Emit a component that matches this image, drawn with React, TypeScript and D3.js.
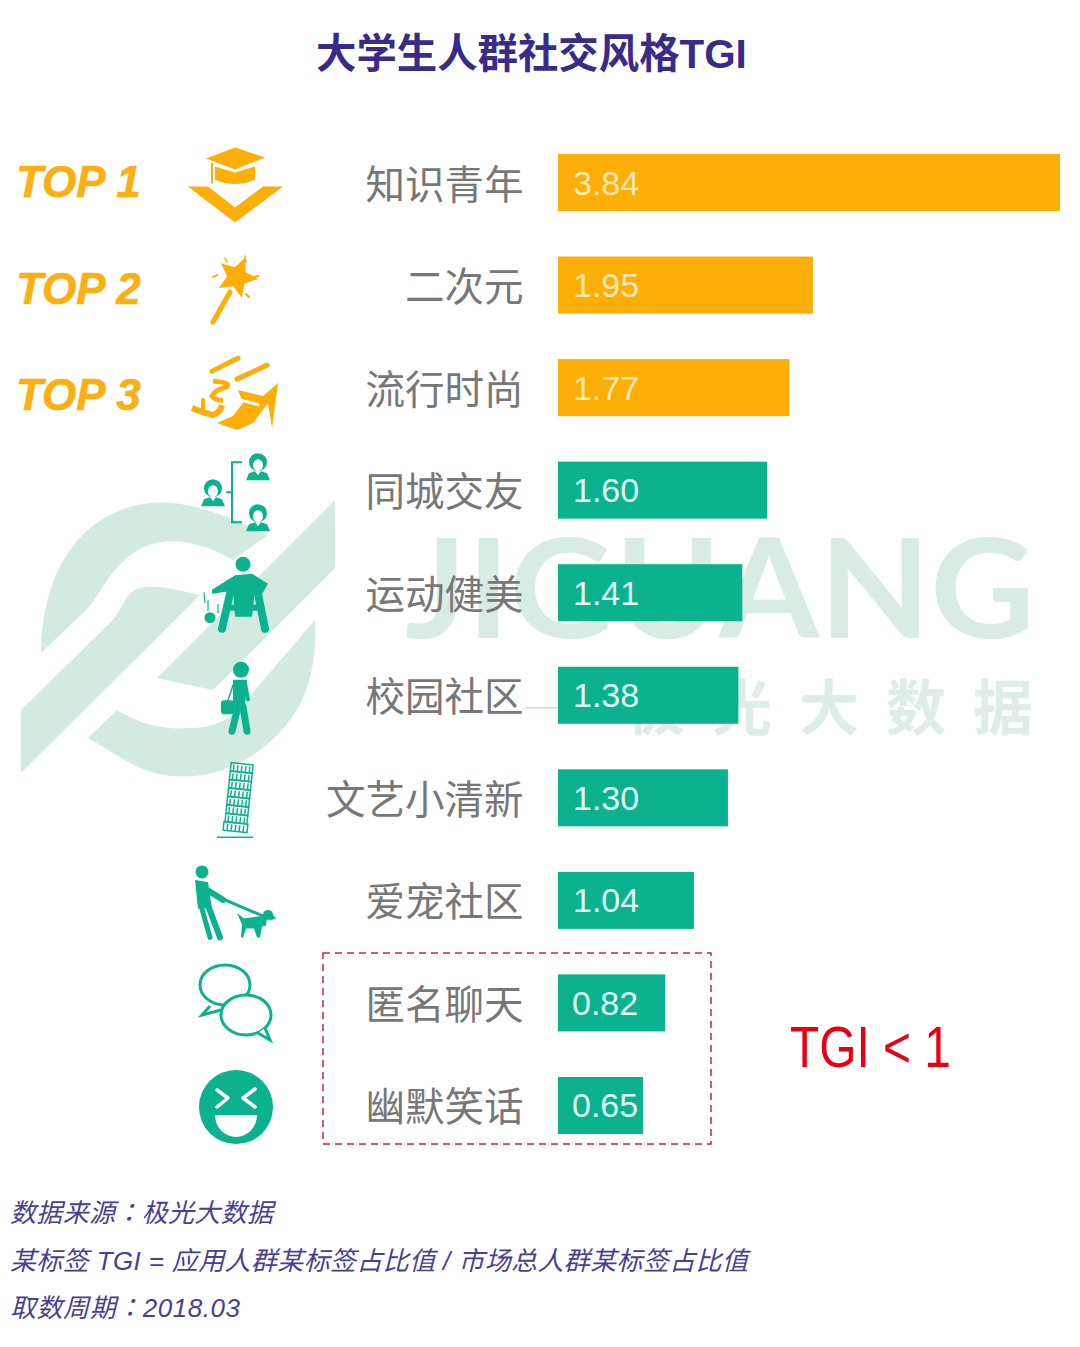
import React from 'react';
import * as d3 from 'd3';

const categories = ['知识青年', '二次元', '流行时尚', '同城交友', '运动健美', '校园社区', '文艺小清新', '爱宠社区', '匿名聊天', '幽默笑话'];
const values = [3.84, 1.95, 1.77, 1.6, 1.41, 1.38, 1.3, 1.04, 0.82, 0.65];
const topLabels = ['TOP 1', 'TOP 2', 'TOP 3'];
const footnotes = ['数据来源：极光大数据', '某标签 TGI = 应用人群某标签占比值 / 市场总人群某标签占比值', '取数周期：2018.03'];
const footnoteWidths = [263, 738, 230];

const ORANGE = '#fdae08';
const TEAL = '#0cb28e';
const WATERMARK = '#d2eadf';
const CJK = '"Noto Sans CJK SC", sans-serif';
const LATIN = '"Liberation Sans", "Noto Sans CJK SC", sans-serif';

const x = d3.scaleLinear().domain([0, 3.84]).range([558, 1060]);
const y = d3.scaleBand().domain(categories).range([154, 1134]).paddingInner(0.444);

const line = (pts: [number, number][], w: number, c: string) => (
  <path d={d3.line()(pts)!} fill="none" stroke={c} strokeWidth={w} strokeLinecap="round" strokeLinejoin="round" />
);

// icons are drawn around the row centre
function HatIcon() {
  return (
    <g fill={ORANGE} transform="translate(0,2)">
      <path d="M-30,-26 L-1,-37 L29,-27 L-1,-15 Z" />
      <path d="M-21,-18 L-1,-12 L19,-18 L19,-5 Q-1,4 -21,-5 Z" />
      {line([[-24, -21], [-24, -2]], 2, ORANGE)}
      <path d="M-48,2 L-28,2 L-1,23 L27,2 L47,2 L-1,38 Z" />
    </g>
  );
}

const starPath = d3.lineRadial<number>()
  .angle((_, i) => (i * Math.PI) / 5)
  .radius(r => r)
  .curve(d3.curveLinearClosed)([21, 10, 21, 10, 21, 10, 21, 10, 21, 10])!;

function WandIcon() {
  return (
    <g transform="translate(0,3)">
      <path d={starPath} fill={ORANGE} transform="translate(1,-11) rotate(23)" />
      {line([[-6, 4], [-23, 34]], 5, ORANGE)}
      {line([[9, -32], [10, -26]], 1.5, ORANGE)}
      {line([[-11, -30], [-9, -26]], 1.5, ORANGE)}
      {line([[-23, -11], [-19, -13]], 2, ORANGE)}
      {line([[18, -11], [22, -12]], 2, ORANGE)}
      {line([[10, 6], [13, 9]], 2, ORANGE)}
    </g>
  );
}

function ShoesIcon() {
  return (
    <g transform="translate(0,3)">
      {line([[-24, -19.5], [2, -32.5]], 5, ORANGE)}
      {line([[1, -11.5], [31, -25.5]], 5, ORANGE)}
      <path d="M-23,-9.5 Q-5,-8 -9,-4 Q-22,0 -24,5.5 Q-20,10 -13,9.5" fill="none" stroke={ORANGE} strokeWidth={5} />
      <path d="M-44,17.5 Q-32,22 -23,24.5 Q-16,22 -14,14.5" fill="none" stroke={ORANGE} strokeWidth={6} />
      {line([[-33, 9.5], [-33, 18]], 4, ORANGE)}
      <path d="M2,-0.5 L27,5.5 L42,-7.5 L36,37.5 L32,12.5 L17,32.5 L1,39.5 L-19,32.5 L-3,25.5 L7,12.5 Z" fill={ORANGE} />
      {line([[3, 9], [22, 14]], 3, '#fff')}
    </g>
  );
}

function Bust({ px, py }: { px: number; py: number }) {
  return (
    <g transform={`translate(${px},${py})`} fill={TEAL}>
      <circle cx={0} cy={-5} r={9} />
      <ellipse cx={0} cy={-2} rx={5} ry={6} fill="#fff" />
      <path d="M-12,13 L-9,6 L-3,4 L0,8 L3,4 L9,6 L12,13 Z" />
    </g>
  );
}

function PeopleIcon() {
  return (
    <g>
      <Bust px={-23} py={3} />
      <Bust px={22} py={-23} />
      <Bust px={22} py={28} />
      <path d="M6,-28 L-4,-28 L-4,32 L6,32" fill="none" stroke={TEAL} strokeWidth={2} />
      {line([[-9, 2], [-4, 2]], 2, TEAL)}
    </g>
  );
}

function SportIcon() {
  return (
    <g fill={TEAL}>
      <circle cx={7} cy={-28.5} r={7.5} />
      <path d="M-1,-17.5 L16,-19 L32,-9 L24,5 L19,-2.5 L16,24 L-1,24 L-3,-2 L-24,1 L-24,-3 Z" />
      {line([[-6, 1], [-14, 36]], 8, TEAL)}
      {line([[22, 1], [29, 36]], 8, TEAL)}
      {line([[-8, 15], [24, 15]], 6, TEAL)}
      <circle cx={-26} cy={25} r={5.5} />
      {line([[-32, 0], [-31, 10]], 1.2, TEAL)}
      {line([[-28, 8], [-28, 18]], 1.2, TEAL)}
      {line([[-18, 12], [-18, 20]], 1.2, TEAL)}
    </g>
  );
}

function WalkerIcon() {
  return (
    <g fill={TEAL}>
      <circle cx={5} cy={-25.5} r={8} />
      <path d="M-3,-15.5 L11,-15.5 L9,11.5 L-3,11.5 Z" />
      {line([[9, -12], [12, 4]], 4, TEAL)}
      {line([[-3, -10], [-9, 8]], 1.5, TEAL)}
      <rect x={-15} y={5} width={13} height={14} rx={3} />
      {line([[2, 11.5], [-4, 36]], 7, TEAL)}
      {line([[7, 11.5], [11, 36]], 7, TEAL)}
    </g>
  );
}

const towerFloors = d3.range(8);
function TowerIcon() {
  return (
    <g fill="none" stroke={TEAL} strokeWidth={1.5}>
      <g transform="translate(-1,34) rotate(6)">
        {towerFloors.map(i => (
          <g key={i} transform={`translate(0,${-i * 8.5 - 9})`}>
            <rect x={i === 0 ? -12 : -11} y={0} width={i === 0 ? 24 : 22} height={8.5} />
            {d3.range(-8, 9, 4).map(t => (
              <line key={t} x1={t} x2={t} y1={2} y2={8} />
            ))}
          </g>
        ))}
      </g>
      <line x1={-19} x2={17} y1={39.5} y2={39.5} />
    </g>
  );
}

function DogIcon() {
  return (
    <g fill={TEAL}>
      <circle cx={-34} cy={-28.5} r={6.5} />
      <path d="M-41,-20.5 L-28,-18.5 L-24,8 L-38,8 Z" />
      {line([[-35, 5], [-26, 37]], 5, TEAL)}
      {line([[-28, 5], [-16, 37]], 6, TEAL)}
      {line([[-29, -10.5], [-13, -0.5]], 6, TEAL)}
      {line([[-11, -0.5], [29, 16.5]], 3, TEAL)}
      <path d="M1,12.5 L8,18 L31,15 L30,25 L26,26 L24,37 L21,37 L18,28 L10,28 L7,37 L5,37 L6,24 Z" />
      <circle cx={32} cy={14.5} r={5} />
      <path d="M35,12 L40,18 L34,20 Z" />
    </g>
  );
}

function ChatIcon() {
  return (
    <g fill="#fff" stroke={TEAL} strokeWidth={3}>
      <ellipse cx={-11} cy={-18} rx={25} ry={20} />
      <path d="M-26,3 L-34,12 L-15,7" />
      <ellipse cx={10} cy={12} rx={25} ry={20} />
      <path d="M22,30 L34,37 L29,25" />
    </g>
  );
}

function SmileIcon() {
  return (
    <g>
      <circle cx={0} cy={1.5} r={37} fill={TEAL} />
      {line([[-19, -15.5], [-8, -7.5], [-19, 1.5]], 3.5, '#fff')}
      {line([[19, -16.5], [7, -7.5], [19, 1.5]], 3.5, '#fff')}
      <path d="M-21,9.5 L21,9.5 A21,22 0 0 1 -21,9.5 Z" fill="#fff" />
    </g>
  );
}

const icons = [HatIcon, WandIcon, ShoesIcon, PeopleIcon, SportIcon, WalkerIcon, TowerIcon, DogIcon, ChatIcon, SmileIcon];

function Watermark() {
  return (
    <g fill={WATERMARK}>
      <path d="M41,653 C41,600 60,540 110,515 C150,495 190,497 268,535 L233,560 C190,535 150,535 125,560 C105,578 100,595 88,608 Z" />
      <path d="M21,710 L113,620 C125,605 125,590 145,587 C165,585 185,592 200,595 L21,773 Z" />
      <path d="M335,500 L335,568 L213,690 L157,678 Z" />
      <path d="M315,620 C318,680 300,720 260,750 C220,780 170,785 130,763 L88,738 L117,710 C140,725 165,730 190,728 C225,728 240,710 255,690 Z" />
      <text x={405} y={638} fontFamily="Lato, sans-serif" fontWeight={700} fontSize={138} textLength={630} lengthAdjust="spacingAndGlyphs" fill="#d8ece4">JIGUANG</text>
      <text x={625} y={730} fontFamily={CJK} fontWeight={700} fontSize={60} letterSpacing={27} fill="#dfede8">极光大数据</text>
      <rect x={525} y={707} width={33} height={1.5} fill="#cfdcd6" />
    </g>
  );
}

export default function App() {
  return (
    <svg width={1080} height={1347} style={{ position: 'absolute', left: 0, top: 0, background: '#fff' }}>
      <Watermark />

      <text x={316} y={68} fontFamily={LATIN} fontWeight={700} fontSize={40.4} fill="#3a2b88">大学生人群社交风格TGI</text>

      {topLabels.map((t, i) => (
        <text key={t} x={16} y={197 + i * 106.5} fontFamily={LATIN} fontWeight={700} fontStyle="italic" fontSize={44} fill="#fbaf12" stroke="#fbaf12" strokeWidth={0.6}>{t}</text>
      ))}

      {categories.map((c, i) => {
        const Icon = icons[i];
        const top = y(c)!;
        const mid = top + y.bandwidth() / 2;
        return (
          <g key={c}>
            <g transform={`translate(236,${mid})`}><Icon /></g>
            <text x={523.5} y={mid + 16} textAnchor="end" fontFamily={CJK} fontWeight={400} fontSize={39.5} fill="#777">{c}</text>
            <rect x={x(0)} y={top} width={x(values[i]) - x(0)} height={y.bandwidth()} fill={i < topLabels.length ? ORANGE : TEAL} />
            <text x={x(0) + (values[i] < 1 ? 14 : 15)} y={mid + 12} fontFamily={LATIN} fontSize={34} fill={i < topLabels.length ? '#ffe9b0' : '#dffbf3'}>{values[i].toFixed(2)}</text>
          </g>
        );
      })}

      <rect x={323} y={953} width={388} height={191} fill="none" stroke="#d11f45" strokeWidth={1.5} strokeDasharray="7 5" />
      <text x={790} y={1067} fontFamily={LATIN} fontSize={58} fill="#e60012" textLength={161} lengthAdjust="spacingAndGlyphs">TGI &lt; 1</text>

      {footnotes.map((t, i) => {
        // the centred full-width colon comes from the TC cut of the font
        const [head, tail] = t.split('：');
        return (
          <text key={t} x={10} y={1222 + i * 47.5} fontFamily={LATIN} fontStyle="italic" fontSize={26} fill="#4b3f8f" textLength={footnoteWidths[i]}>
            {head}
            {tail !== undefined && <tspan fontFamily='"Noto Sans CJK TC"'>：</tspan>}
            {tail}
          </text>
        );
      })}
    </svg>
  );
}
